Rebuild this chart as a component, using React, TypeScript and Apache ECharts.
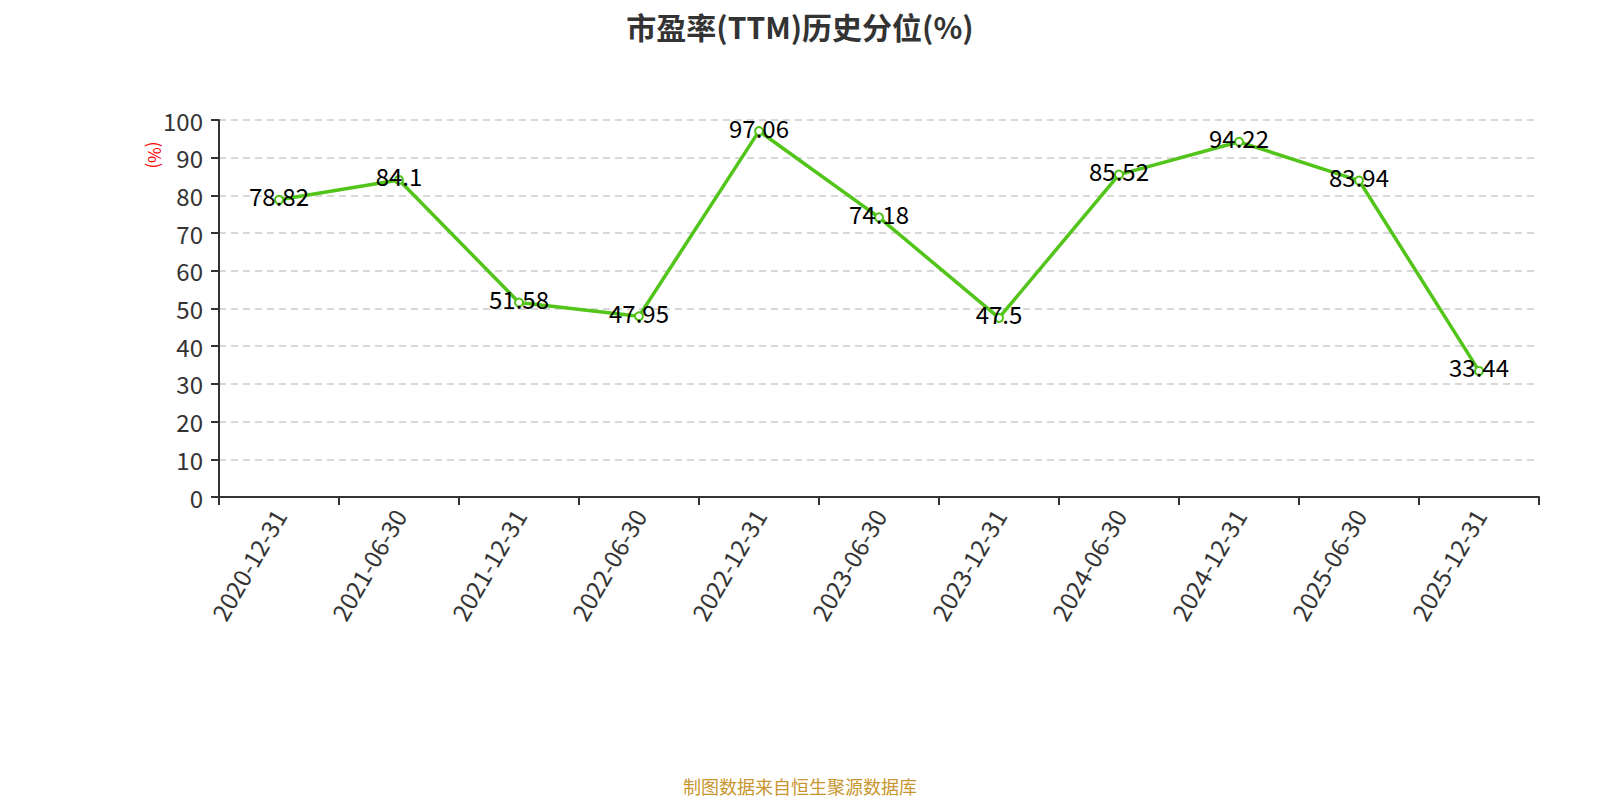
import React, { useEffect, useRef } from "react";
import * as echarts from "echarts";

const categories = [
  "2020-12-31", "2021-06-30", "2021-12-31", "2022-06-30", "2022-12-31", "2023-06-30",
  "2023-12-31", "2024-06-30", "2024-12-31", "2025-06-30", "2025-12-31",
];
const values = [78.82, 84.1, 51.58, 47.95, 97.06, 74.18, 47.5, 85.52, 94.22, 83.94, 33.44];

const FONT = "'Noto Sans CJK SC', 'Noto Sans', sans-serif";

export default function App() {
  const ref = useRef<HTMLDivElement>(null);
  useEffect(() => {
    if (!ref.current) return;
    const chart = echarts.init(ref.current, null, { renderer: "svg" });
    chart.setOption({
      animation: false,
      textStyle: { fontFamily: FONT },
      title: {
        text: "市盈率(TTM)历史分位(%)",
        left: "center",
        top: 6,
        textStyle: { fontSize: 30, fontWeight: "bold", color: "#333", fontFamily: FONT },
      },
      grid: { left: 219, right: 61, top: 120, bottom: 303, containLabel: false },
      xAxis: {
        type: "category",
        data: categories,
        boundaryGap: true,
        axisLine: { lineStyle: { color: "#333", width: 2 } },
        axisTick: { show: true, length: 8, lineStyle: { color: "#333", width: 2 } },
        axisLabel: { rotate: 60, fontSize: 24, color: "#333", margin: 14, fontFamily: FONT },
      },
      yAxis: {
        type: "value",
        min: 0,
        max: 100,
        interval: 10,
        axisLine: { show: true, lineStyle: { color: "#333", width: 2 } },
        axisTick: { show: true, length: 8, lineStyle: { color: "#333", width: 2 } },
        axisLabel: { fontSize: 24, color: "#333", margin: 16, fontFamily: FONT },
        splitLine: { lineStyle: { color: "#ccc", type: [7, 5], width: 1.5 } },
      },
      graphic: [
        {
          type: "text",
          x: 155,
          y: 155,
          rotation: -Math.PI / 2,
          style: {
            text: "(%)",
            fill: "#ff0000",
            fontSize: 17,
            fontFamily: FONT,
            align: "center",
            verticalAlign: "middle",
          },
        },
        {
          type: "text",
          x: 800,
          y: 786,
          style: {
            text: "制图数据来自恒生聚源数据库",
            fill: "#c8962e",
            fontSize: 18,
            fontFamily: FONT,
            align: "center",
            verticalAlign: "middle",
          },
        },
      ],
      series: [
        {
          type: "line",
          data: values,
          symbol: "circle",
          symbolSize: 8,
          showAllSymbol: true,
          lineStyle: { color: "#52c41a", width: 3.5 },
          itemStyle: { color: "#fff", borderColor: "#52c41a", borderWidth: 2 },
          label: {
            show: true,
            position: "inside",
            offset: [0, -4],
            fontSize: 24,
            color: "#000",
            fontFamily: FONT,
          },
        },
      ],
    });
    return () => chart.dispose();
  }, []);
  return (
    <div
      ref={ref}
      style={{ position: "fixed", left: 0, top: 0, width: 1600, height: 800, background: "#fff" }}
    />
  );
}
